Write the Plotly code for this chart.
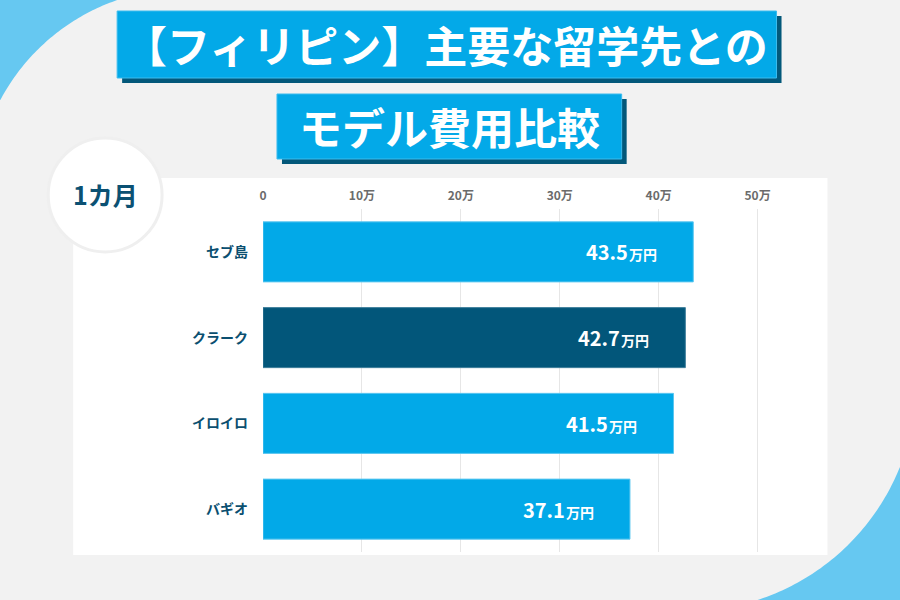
import numpy as np
import plotly.graph_objects as go

# ---- data ----
categories = ["セブ島", "クラーク", "イロイロ", "バギオ"]
values = [43.5, 42.7, 41.5, 37.1]
bar_colors = ["#02a9e8", "#02567a", "#02a9e8", "#02a9e8"]
line_colors = ["#5ac6f0", "#3f7f9c", "#5ac6f0", "#5ac6f0"]
tick_vals = [0, 10, 20, 30, 40, 50]
tick_text = ["0", "10万", "20万", "30万", "40万", "50万"]
title_line1 = "【フィリピン】主要な留学先との"
title_line2 = "モデル費用比較"
period_label = "1カ月"
unit = "万円"

W, H = 900, 600
L, R, T, B = 263, 92.5, 209, 48
PW, PH = W - L - R, H - T - B
FONT = "Noto Sans CJK JP"


def px(x):
    return (x - L) / PW


def py(y):
    return (H - B - y) / PH


def arc_path(cx, cy, r, a0, a1, close_pts, n=60):
    ang = np.linspace(a0, a1, n)
    pts = [(cx + r * np.cos(a), cy + r * np.sin(a)) for a in ang]
    pts = pts + close_pts
    d = "M " + " L ".join(f"{px(x):.5f},{py(y):.5f}" for x, y in pts) + " Z"
    return d


shapes = []
# top-left light blue corner (outside a grey circle)
c1 = (185.5, 198.6)
r1 = 210.0
a_start = np.arctan2(0 - c1[1], 117 - c1[0])
a_end = np.arctan2(100 - c1[1], 0 - c1[0])
shapes.append(dict(type="path", xref="paper", yref="paper", layer="below",
                   path=arc_path(c1[0], c1[1], r1, a_start, a_end, [(0, 100), (-5, 100), (-5, -5), (117, -5)]),
                   fillcolor="#66c8f1", line=dict(width=0)))
# bottom-right light blue corner
c2 = (687.1, 381.2)
r2 = 230.0
b_start = np.arctan2(467 - c2[1], 900 - c2[0])
b_end = np.arctan2(600 - c2[1], 757 - c2[0])
shapes.append(dict(type="path", xref="paper", yref="paper", layer="below",
                   path=arc_path(c2[0], c2[1], r2, b_start, b_end, [(757, 605), (905, 605), (905, 467)]),
                   fillcolor="#66c8f1", line=dict(width=0)))
# white panel
shapes.append(dict(type="rect", xref="paper", yref="paper", layer="below",
                   x0=px(73), x1=px(828), y0=py(555), y1=py(178),
                   fillcolor="#ffffff", line=dict(width=0)))
# period circle
shapes.append(dict(type="circle", xref="paper", yref="paper", layer="below",
                   x0=px(48), x1=px(162), y0=py(252), y1=py(138),
                   fillcolor="#ffffff", line=dict(color="#efefef", width=3)))
# title boxes with shadows
for (x0, y0, x1, y1) in [(117, 11, 777, 78), (277, 94, 622, 159)]:
    shapes.append(dict(type="rect", xref="paper", yref="paper", layer="below",
                       x0=px(x0 + 5), x1=px(x1 + 5), y0=py(y1 + 5), y1=py(y0 + 5),
                       fillcolor="#03587a", line=dict(width=0)))
    shapes.append(dict(type="rect", xref="paper", yref="paper", layer="below",
                       x0=px(x0), x1=px(x1), y0=py(y1), y1=py(y0),
                       fillcolor="#03a9e8", line=dict(color="#3cbcee", width=1)))

fig = go.Figure()
fig.add_trace(go.Bar(
    y=categories, x=values, orientation="h",
    marker=dict(color=bar_colors, line=dict(color=line_colors, width=1)),
    hoverinfo="skip",
))

annotations = []
for cat, v in zip(categories, values):
    annotations.append(dict(
        x=v, y=cat, xref="x", yref="y", xanchor="right", yanchor="middle",
        xshift=-34, showarrow=False,
        text=(f"<span style='font-size:20px'>{v:.1f}</span>"
              f"<span style='font-size:5px'> </span>"
              f"<span style='font-size:14px'>{unit}</span>"),
        font=dict(family=FONT, color="#ffffff", size=20, weight=700),
    ))
annotations.append(dict(x=px(446), y=py(44), xref="paper", yref="paper", showarrow=False,
                        text=title_line1, xanchor="center", yanchor="middle",
                        font=dict(family=FONT, size=43, color="#ffffff", weight=700)))
annotations.append(dict(x=px(449.5), y=py(126), xref="paper", yref="paper", showarrow=False,
                        text=title_line2, xanchor="center", yanchor="middle",
                        font=dict(family=FONT, size=43, color="#ffffff", weight=700)))
annotations.append(dict(x=px(105), y=py(194), xref="paper", yref="paper", showarrow=False,
                        text=period_label, xanchor="center", yanchor="middle",
                        font=dict(family=FONT, size=25, color="#0b5173", weight=700)))

fig.update_layout(
    width=W, height=H,
    margin=dict(l=L, r=R, t=T, b=B, pad=0),
    paper_bgcolor="#f2f2f2",
    plot_bgcolor="rgba(0,0,0,0)",
    showlegend=False,
    bargap=0.3,
    shapes=shapes,
    annotations=annotations,
    font=dict(family=FONT),
    xaxis=dict(side="top", range=[0, 55], tickvals=tick_vals, ticktext=tick_text,
               showgrid=True, gridcolor="#e6e6e6", gridwidth=1, zeroline=False,
               showline=False, ticks="", ticklabelstandoff=6,
               tickfont=dict(family=FONT, size=12, color="#6b6b6b", weight=700),
               fixedrange=True),
    yaxis=dict(autorange="reversed", showgrid=False, zeroline=False, showline=False,
               ticks="", ticklabelstandoff=14,
               tickfont=dict(family=FONT, size=14, color="#0b4f70", weight=700),
               fixedrange=True),
)

fig.write_html("out.html", config={"displayModeBar": False})
